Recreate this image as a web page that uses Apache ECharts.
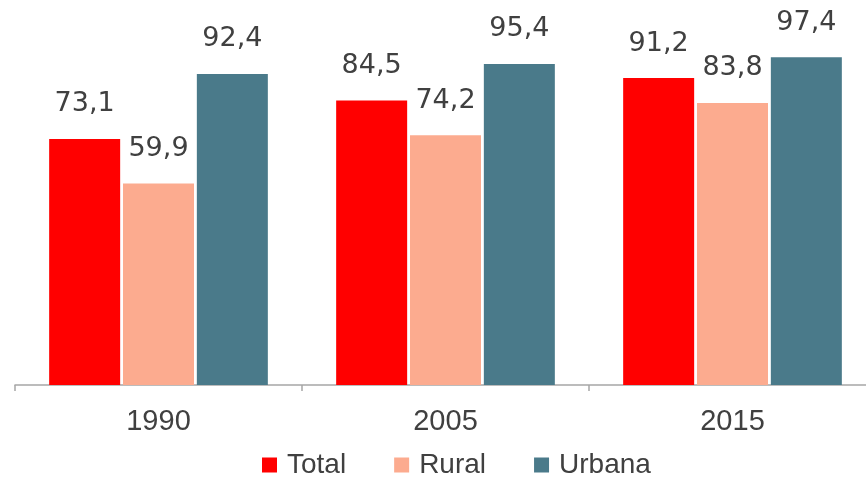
<!DOCTYPE html>
<html>
<head>
<meta charset="utf-8">
<script src="https://cdn.jsdelivr.net/npm/echarts@6/dist/echarts.min.js"></script>
<style>
  html, body { margin: 0; padding: 0; background: #fff; }
  #main { width: 866px; height: 477px; }
</style>
</head>
<body>
<div id="main"></div>
<script>
// 数据
var years = ['1990', '2005', '2015'];
var seriesNames = ['Total', 'Rural', 'Urbana'];
var totalData = [73.1, 84.5, 91.2];
var ruralData = [59.9, 74.2, 83.8];
var urbanaData = [92.4, 95.4, 97.4];
var colors = ['#FF0000', '#FCAB8F', '#4A7A8A'];

function valueLabel() {
    return {
        show: true,
        position: 'top',
        distance: 21,
        fontFamily: 'DejaVu Sans',
        fontSize: 27,
        color: '#404040',
        formatter: function (p) {
            return p.value.toFixed(1).replace('.', ',');
        }
    };
}

var myChart = echarts.init(document.getElementById('main'));
var option = {
    animation: false,
    color: colors,
    legend: {
        data: seriesNames,
        left: 262,
        top: 451,
        padding: 0,
        icon: 'rect',
        itemWidth: 15,
        itemHeight: 15,
        itemGap: 48,
        textStyle: {
            fontFamily: 'Liberation Sans',
            fontSize: 28,
            color: '#404040',
            padding: [0, 0, 0, 5]
        }
    },
    grid: {
        left: 15,
        width: 861,
        top: 48.4,
        bottom: 92,
        containLabel: false,
        outerBoundsMode: 'none'
    },
    xAxis: {
        type: 'category',
        data: years,
        axisLine: {
            lineStyle: { color: '#A6A6A6', width: 1.5 }
        },
        axisTick: {
            show: true,
            length: 6,
            lineStyle: { color: '#A6A6A6', width: 1.5 }
        },
        axisLabel: {
            margin: 22,
            fontFamily: 'Liberation Sans',
            fontSize: 29,
            color: '#404040'
        }
    },
    yAxis: {
        type: 'value',
        min: 0,
        max: 100,
        show: false,
        splitLine: { show: false }
    },
    series: [{
        name: 'Total',
        type: 'bar',
        barWidth: 71,
        barGap: '4%',
        data: totalData,
        label: valueLabel()
    }, {
        name: 'Rural',
        type: 'bar',
        barWidth: 71,
        barGap: '4%',
        data: ruralData,
        label: valueLabel()
    }, {
        name: 'Urbana',
        type: 'bar',
        barWidth: 71,
        barGap: '4%',
        data: urbanaData,
        label: valueLabel()
    }]
};
myChart.setOption(option);
</script>
</body>
</html>
